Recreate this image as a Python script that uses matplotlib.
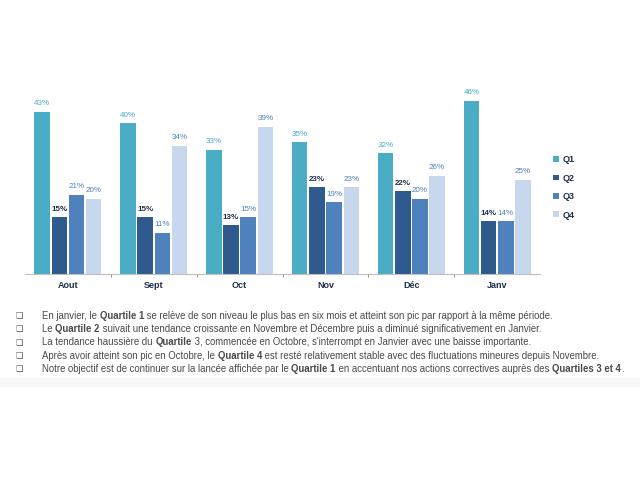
import numpy as np
import matplotlib.pyplot as plt
from matplotlib.patches import Rectangle

mois = ["Aout", "Sept", "Oct", "Nov", "Déc", "Janv"]
q1 = [43, 40, 33, 35, 32, 46]
q2 = [15, 15, 13, 23, 22, 14]
q3 = [21, 11, 15, 19, 20, 14]
q4 = [20, 34, 39, 23, 26, 25]
series = ["Q1", "Q2", "Q3", "Q4"]

couleurs = ["#4BACC6", "#2F5A8E", "#4F81BD", "#C6D7EE"]
couleurs_lbl = ["#4BACC6", "#1F2F4A", "#4F81BD", "#4F81BD"]

lignes = [
    [("En janvier, le ", False), ("Quartile 1", True),
     (" se relève de son niveau le plus bas en six mois et atteint son pic par rapport à la même période.", False)],
    [("Le ", False), ("Quartile 2", True),
     (" suivait une tendance croissante en Novembre et Décembre puis a diminué significativement en Janvier.", False)],
    [("La tendance haussière du ", False), ("Quartile", True),
     (" 3, commencée en Octobre, s'interrompt en Janvier avec une baisse importante.", False)],
    [("Après avoir atteint son pic en Octobre, le ", False), ("Quartile 4", True),
     (" est resté relativement stable avec des fluctuations mineures depuis Novembre.", False)],
    [("Notre objectif est de continuer sur la lancée affichée par le ", False), ("Quartile 1", True),
     (" en accentuant nos actions correctives auprès des ", False), ("Quartiles 3 et 4", True), (".", False)],
]

plt.rcParams["font.family"] = ["Liberation Sans", "DejaVu Sans"]
fig = plt.figure(figsize=(6.4, 4.8), dpi=100)
ax = fig.add_axes([0.039, 0.429, 0.805, 0.393])

x = np.arange(len(mois))
offsets = [-0.3, -0.1, 0.1, 0.3]
for i, vals in enumerate([q1, q2, q3, q4]):
    bars = ax.bar(x + offsets[i], vals, width=0.18, color=couleurs[i], label=series[i])
    for b, v in zip(bars, vals):
        ax.text(b.get_x() + b.get_width() / 2, v + 1.2, f"{v}%", ha="center", va="bottom",
                fontsize=5.8, color=couleurs_lbl[i], fontweight="bold" if i == 1 else "normal")

ax.set_xlim(-0.5, len(mois) - 0.5)
ax.set_ylim(0, 50)
ax.set_xticks(x)
ax.set_xticklabels(mois, fontsize=6.5, color="#1F2F4A", fontweight="bold")
ax.set_xticks(np.arange(0.5, len(mois) - 1, 1), minor=True)
ax.tick_params(axis="x", which="major", length=0, pad=5)
ax.tick_params(axis="x", which="minor", length=2, color="#C06060")
ax.set_yticks([])
for s in ["top", "right", "left"]:
    ax.spines[s].set_visible(False)
ax.spines["bottom"].set_color("#BFBFBF")

leg = ax.legend(loc="center left", bbox_to_anchor=(1.01, 0.46), frameon=False, fontsize=6.5,
                handlelength=0.6, handleheight=0.6, handletextpad=0.4, labelspacing=1.05)
for t in leg.get_texts():
    t.set_fontweight("bold")
    t.set_color("#1F2F4A")

# bande grise en bas du texte
fig.add_artist(Rectangle((0, 1 - 386 / 480), 1, 8 / 480, transform=fig.transFigure,
                         color="#F7F7F7", zorder=0))

fig.canvas.draw()
renderer = fig.canvas.get_renderer()
y0 = 1 - 316 / 480
dy = 13.2 / 480
for k, ligne in enumerate(lignes):
    y = y0 - k * dy
    fig.text(16 / 640, y, "❑", fontsize=6, color="#555555", va="center",
             family=["DejaVu Sans"])
    xpos = 42 / 640
    for txt, gras in ligne:
        t = fig.text(xpos, y, txt, fontsize=6.9, color="#4A4A4A", va="center",
                     fontweight="bold" if gras else "normal")
        bb = t.get_window_extent(renderer=renderer)
        xpos += bb.width / fig.bbox.width

fig.savefig("out.png", dpi=100)
